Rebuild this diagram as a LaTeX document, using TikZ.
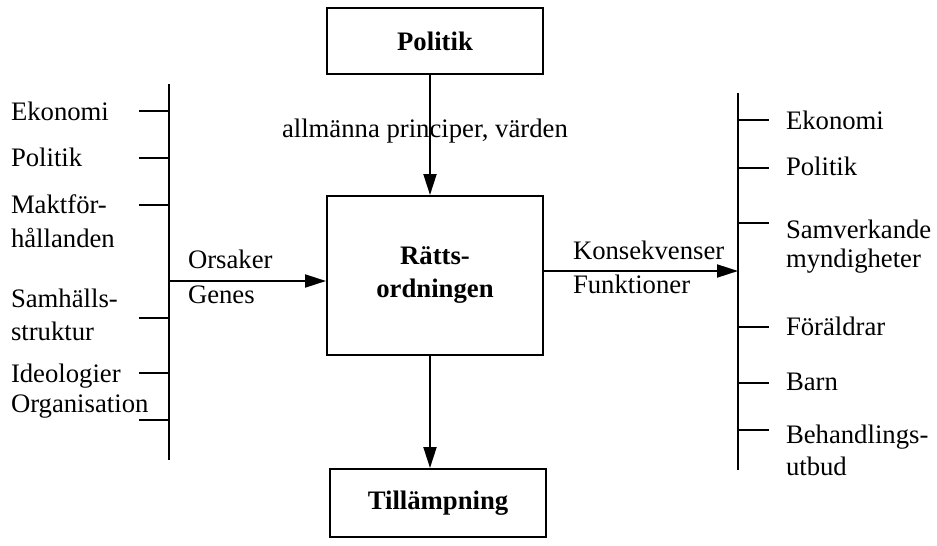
\documentclass[tikz,border=0pt]{standalone}
\usepackage{fontspec}
\setmainfont{Liberation Serif}
\usetikzlibrary{arrows.meta}

\begin{document}
\begin{tikzpicture}[x=1pt,y=-1pt,line width=2pt,>={Triangle[length=21pt,width=13pt]},
  font=\fontsize{26.7}{31}\selectfont,
  box/.style={draw,minimum width=216pt,inner sep=0pt,align=center,font=\fontsize{26.7}{33}\selectfont\bfseries},
  lbl/.style={anchor=base west,inner sep=0pt}]
\useasboundingbox (0,0) rectangle (937,546);
% boxes in the middle
\node[box,minimum height=66pt] (pol) at (435,41) {Politik};
\node[box,minimum height=159pt] (ratt) at (435,275.5) {Rätts-\\ordningen};
\node[box,minimum height=68pt] (till) at (438,503) {Tillämpning};
\coordinate (ax) at (430,0);
\draw[->] (pol.south -| ax) -- (ratt.north -| ax);
\draw[->] (ratt.south -| ax) -- (till.north -| ax);
\node[lbl] (princ) at (281,137) {allmänna principer, värden};
% left side: causes
\coordinate (ltop) at (169,84);
\coordinate (lbot) at (169,460);
\draw (ltop) -- (lbot);
\foreach \y in {111,158,205,318,373,420}
  \draw (139,\y) -- (169,\y);
\foreach \t/\y in {Ekonomi/120,Politik/166,Maktför-/213,hållanden/247,Samhälls-/307,struktur/340,Ideologier/382,Organisation/412}
  \node[lbl] (l\y) at (10,\y) {\t};
\coordinate (lin) at (169,281);
\draw[->] (lin) -- (lin -| ratt.west);
\node[lbl] (ors) at (187,268) {Orsaker};
\node[lbl] (gen) at (187,303) {Genes};
% right side: consequences
\coordinate (rtop) at (738,93);
\coordinate (rbot) at (738,470);
\draw (rtop) -- (rbot);
\foreach \y in {120,168,223,327,383,430}
  \draw (738,\y) -- (769,\y);
\foreach \t/\y in {Ekonomi/129,Politik/175,Samverkande/238,myndigheter/267,Föräldrar/335,Barn/390,Behandlings-/443,utbud/475}
  \node[lbl] (r\y) at (785,\y) {\t};
\coordinate (rin) at (738,271);
\draw[->] (rin -| ratt.east) -- (rin);
\node[lbl] (kons) at (572,259) {Konsekvenser};
\node[lbl] (funk) at (572,293) {Funktioner};
\end{tikzpicture}
\end{document}
